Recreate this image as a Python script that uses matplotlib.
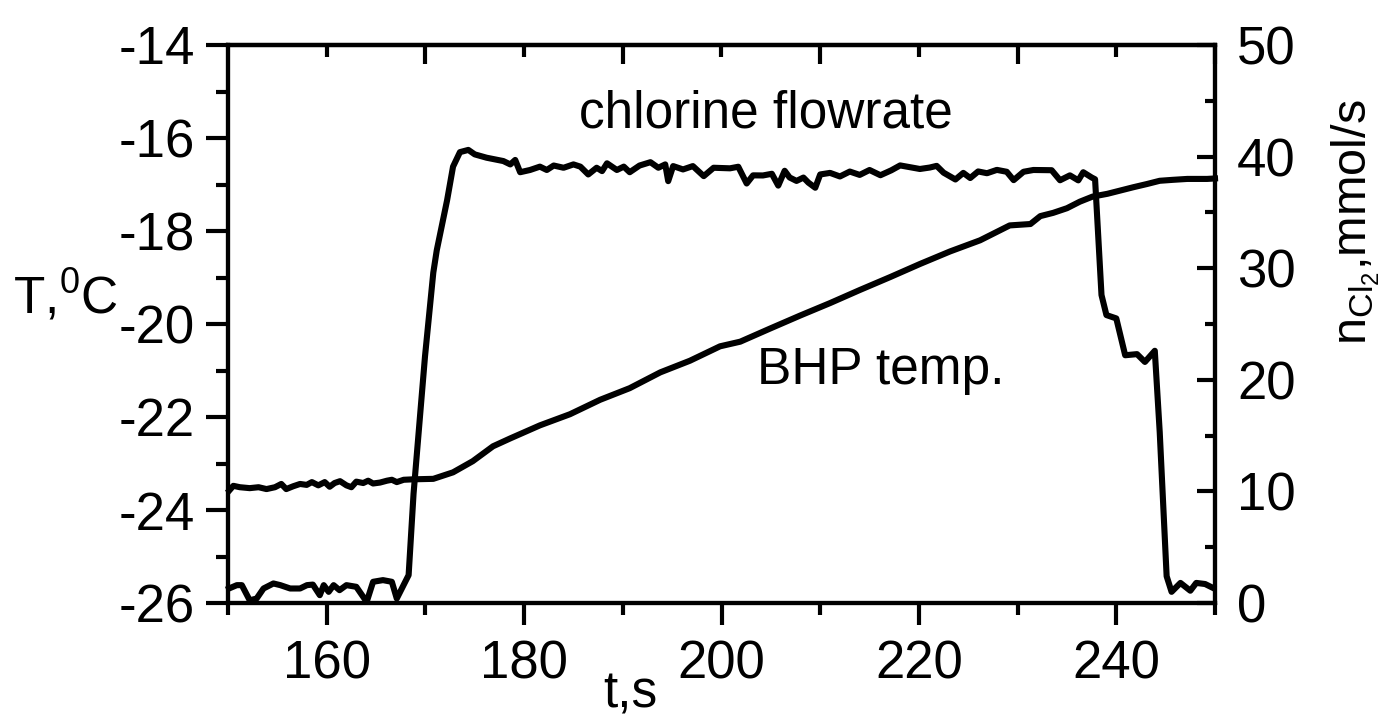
import matplotlib
matplotlib.use("Agg")
import matplotlib.pyplot as plt
from matplotlib.ticker import MultipleLocator, FixedLocator

plt.rcParams['font.family'] = ['Liberation Sans', 'DejaVu Sans']
plt.rcParams['mathtext.fontset'] = 'custom'
plt.rcParams['mathtext.rm'] = 'Liberation Sans'
plt.rcParams['mathtext.it'] = 'Liberation Sans'
plt.rcParams['mathtext.bf'] = 'Liberation Sans'
plt.rcParams['axes.unicode_minus'] = False

# BHP temperature (left axis, deg C)
bhp_t = [150.13, 150.54, 151.2, 152.2, 153.1, 153.9, 154.76, 155.4, 155.9, 156.6,
         157.3, 157.97, 158.5, 159.15, 159.8, 160.3, 160.8, 161.35, 162.0, 162.5,
         163.0, 163.7, 164.2, 164.7, 165.4, 166.1, 166.6, 167.1, 167.8, 168.8,
         170.8, 172.8, 174.8, 176.85, 178.6, 181.6, 184.65, 187.7, 190.7, 193.8,
         196.8, 199.85, 201.9, 204.9, 207.95, 211.0, 214.0, 217.1, 220.1, 223.15,
         226.2, 229.2, 231.3, 232.3, 233.6, 235.0, 236.3, 237.6, 239.1, 240.4,
         241.7, 243.1, 244.4, 245.7, 247.2, 249.2, 250.0]
bhp_T = [-23.58, -23.48, -23.51, -23.53, -23.51, -23.55, -23.51, -23.44, -23.55, -23.49,
         -23.44, -23.46, -23.40, -23.47, -23.40, -23.50, -23.42, -23.38, -23.47, -23.51,
         -23.39, -23.42, -23.37, -23.43, -23.41, -23.37, -23.35, -23.40, -23.35, -23.34,
         -23.33, -23.19, -22.95, -22.63, -22.46, -22.18, -21.94, -21.63, -21.38, -21.04,
         -20.79, -20.48, -20.38, -20.10, -19.82, -19.55, -19.27, -18.99, -18.71, -18.44,
         -18.20, -17.88, -17.85, -17.68, -17.61, -17.51, -17.37, -17.26, -17.20, -17.13,
         -17.06, -16.99, -16.92, -16.90, -16.88, -16.88, -16.87]

# Chlorine flowrate (right axis, mmol/s)
cl_t = [150.1, 150.9, 151.4, 152.2, 152.9, 153.6, 154.6, 155.3, 156.3, 157.3,
        158.0, 158.6, 159.3, 159.7, 160.2, 160.7, 161.3, 162.0, 163.0, 164.05,
        164.7, 165.7, 166.6, 167.1, 168.3, 168.8, 169.45, 169.96, 170.8, 171.15,
        172.2, 172.8, 173.5, 174.35, 175.0, 176.2, 177.9, 178.6, 179.1, 179.6,
        180.6, 181.6, 182.3, 183.0, 184.0, 185.0, 185.7, 186.5, 187.35, 187.9,
        188.4, 189.4, 190.1, 190.7, 191.7, 192.8, 193.6, 194.3, 194.6, 195.1,
        196.1, 197.1, 198.2, 199.2, 200.86, 201.7, 202.55, 203.2, 204.2, 205.1,
        205.75, 206.4, 206.9, 207.6, 208.3, 208.8, 209.5, 210.0, 211.0, 212.0,
        213.0, 214.0, 215.0, 216.1, 217.2, 218.1, 219.1, 220.1, 221.1, 221.8,
        222.5, 223.7, 224.5, 225.2, 226.0, 226.9, 227.9, 228.9, 229.6, 230.6,
        231.6, 232.6, 233.45, 234.3, 235.3, 236.15, 236.65, 237.5, 237.85, 238.5,
        239.0, 240.0, 240.9, 242.1, 242.9, 243.9, 244.4, 245.1, 245.6, 246.5,
        247.5, 248.1, 249.0, 249.8]
cl_n = [1.3, 1.6, 1.6, 0.24, 0.4, 1.3, 1.75, 1.6, 1.3, 1.3,
        1.6, 1.65, 0.7, 1.6, 1.0, 1.6, 1.15, 1.6, 1.45, 0.1,
        1.9, 2.05, 1.9, 0.4, 2.5, 9.8, 16.7, 22.1, 29.6, 31.6,
        36.1, 39.1, 40.4, 40.6, 40.2, 39.9, 39.6, 39.3, 39.7, 38.6,
        38.8, 39.1, 38.8, 39.2, 39.0, 39.3, 39.1, 38.4, 39.0, 38.7,
        39.4, 38.8, 39.1, 38.6, 39.2, 39.5, 39.0, 39.3, 37.8, 39.15,
        38.85, 39.15, 38.25, 39.0, 38.95, 39.09, 37.59, 38.32, 38.31, 38.46,
        37.40, 38.73, 38.13, 37.82, 38.12, 37.67, 37.21, 38.40, 38.54, 38.22,
        38.66, 38.36, 38.80, 38.33, 38.77, 39.21, 39.05, 38.89, 39.02, 39.17,
        38.56, 37.95, 38.54, 38.08, 38.67, 38.51, 38.81, 38.64, 37.89, 38.64,
        38.80, 38.79, 38.78, 37.88, 38.32, 37.87, 38.60, 38.13, 37.97, 27.6,
        25.8, 25.5, 22.2, 22.3, 21.6, 22.6, 15.3, 2.4, 1.0, 1.8,
        1.1, 1.8, 1.7, 1.35]

x_major = [160, 180, 200, 220, 240]
y_left_major = [-26, -24, -22, -20, -18, -16, -14]
y_right_major = [0, 10, 20, 30, 40, 50]

fig = plt.figure(figsize=(13.84, 7.21), dpi=100)
ax = fig.add_axes([228/1384, 1 - 603/721, (1215-228)/1384, (603-45)/721])
ax2 = ax.twinx()

lw_line = 4.4
ax.plot(bhp_t, bhp_T, color='black', lw=lw_line, solid_joinstyle='round', clip_on=False)
ax2.plot(cl_t, cl_n, color='black', lw=lw_line, solid_joinstyle='round', clip_on=False)

ax.set_xlim(150, 250)
ax.set_ylim(-26, -14)
ax2.set_ylim(0, 50)

sw = 3.0
for sp in ax.spines.values():
    sp.set_linewidth(sw)
for sp in ax2.spines.values():
    sp.set_linewidth(sw)

fs = 38
ax.xaxis.set_major_locator(FixedLocator(x_major))
ax.xaxis.set_minor_locator(MultipleLocator(10))
ax.yaxis.set_major_locator(FixedLocator(y_left_major))
ax.yaxis.set_minor_locator(MultipleLocator(1))
ax.tick_params(axis='both', which='major', direction='out', length=16, width=sw,
               labelsize=fs, pad=8)
ax.tick_params(axis='both', which='minor', direction='out', length=8.5, width=sw)
ax.tick_params(axis='x', which='major', pad=10)

ax2.yaxis.set_major_locator(FixedLocator(y_right_major))
ax2.yaxis.set_minor_locator(MultipleLocator(5))
ax2.tick_params(axis='y', which='major', direction='in', length=13, width=sw,
                labelsize=fs, pad=16)
ax2.tick_params(axis='y', which='minor', direction='in', length=7.5, width=sw)

# top axis ticks (inward)
axt = ax.secondary_xaxis('top')
axt.xaxis.set_major_locator(FixedLocator([170, 190, 210, 230, 250]))
axt.xaxis.set_minor_locator(FixedLocator([160, 180, 200, 220, 240]))
axt.tick_params(axis='x', which='major', direction='in', length=14, width=sw,
                labeltop=False)
axt.tick_params(axis='x', which='minor', direction='in', length=8.5, width=sw)
axt.spines['top'].set_linewidth(sw)

fig.text(766/1384, 1 - 114/721, 'chlorine flowrate', fontsize=37,
         ha='center', va='center')
ax.text(203.6, -21.0, 'BHP temp.', fontsize=37, ha='left', va='center')

fig.text(13/1384, 1 - 313/721, r'T,$^{0}$C', fontsize=37, ha='left', va='baseline')
fig.text(630/1384, 1 - 707/721, 't,s', fontsize=37, ha='center', va='baseline')
fig.text(1356/1384, 1 - 222/721, r'n$_{\mathrm{Cl}_2}$,mmol/s', fontsize=35,
         rotation=90, ha='center', va='center')

fig.savefig('out.png', dpi=100, facecolor='white')
